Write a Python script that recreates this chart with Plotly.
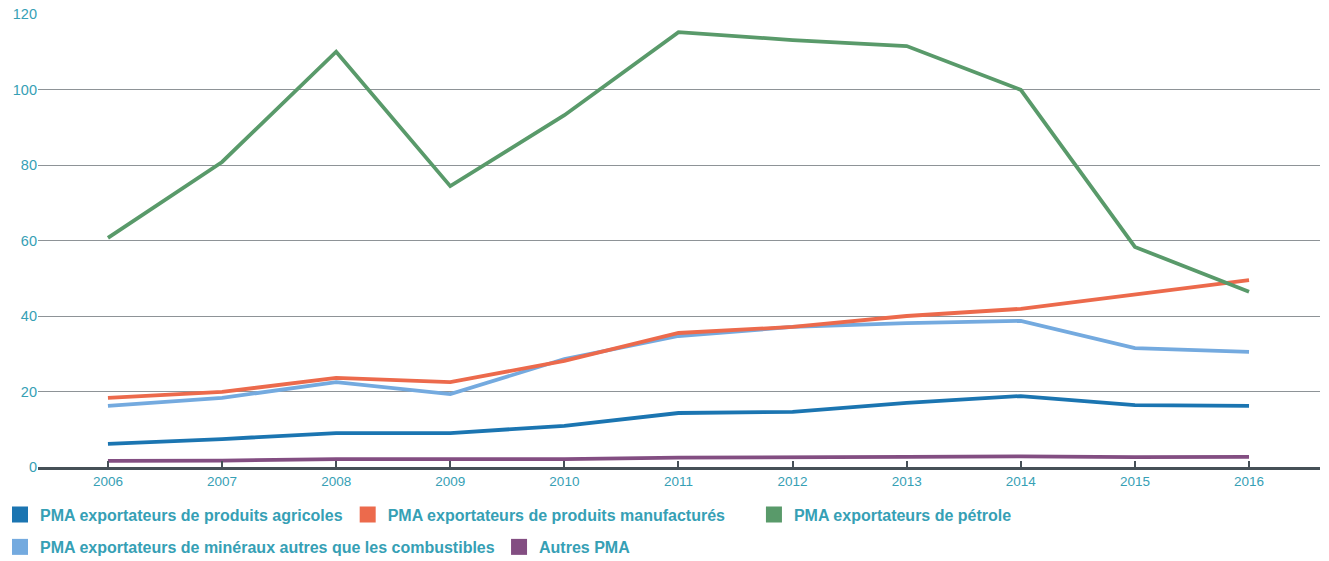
import plotly.graph_objects as go

# Years and series values (indices)
years = [2006, 2007, 2008, 2009, 2010, 2011, 2012, 2013, 2014, 2015, 2016]

agricoles = [6.1, 7.4, 9.0, 9.0, 10.9, 14.3, 14.6, 17.0, 18.8, 16.4, 16.2]
manufactures = [18.3, 19.9, 23.6, 22.5, 28.1, 35.5, 37.1, 40.0, 41.9, 45.6, 49.5]
petrole = [60.7, 80.8, 110.0, 74.4, 93.2, 115.2, 113.1, 111.5, 99.9, 58.3, 46.4]
mineraux = [16.2, 18.3, 22.5, 19.3, 28.6, 34.7, 37.1, 38.1, 38.7, 31.5, 30.5]
autres = [1.6, 1.7, 2.1, 2.0, 2.1, 2.5, 2.5, 2.7, 2.8, 2.6, 2.7]

y_ticks = [0, 20, 40, 60, 80, 100, 120]

series = [
    ("PMA exportateurs de produits agricoles", agricoles, "#1b75b1", "legend"),
    ("PMA exportateurs de produits manufacturés", manufactures, "#ec6a4c", "legend"),
    ("PMA exportateurs de pétrole", petrole, "#599a6a", "legend3"),
    ("PMA exportateurs de minéraux autres que les combustibles", mineraux, "#74aadf", "legend2"),
    ("Autres PMA", autres, "#834e82", "legend4"),
]

TEXT = "#36a0b5"
FONT = "Liberation Sans, Arial, sans-serif"

fig = go.Figure()

# Draw order: light lines first so the main series sit on top
draw_order = [4, 3, 0, 1, 2]
for i in draw_order:
    name, vals, color, _ = series[i]
    fig.add_trace(go.Scatter(
        x=years, y=vals, mode="lines", name=name,
        line=dict(color=color, width=3.8),
        showlegend=False, hoverinfo="x+y+name",
    ))

# Square legend swatches
for name, vals, color, leg in series:
    fig.add_trace(go.Scatter(
        x=[None], y=[None], mode="markers", name=name,
        marker=dict(symbol="square", size=19, color=color),
        legend=leg, showlegend=True,
    ))

legend_common = dict(
    orientation="h", xanchor="left", yanchor="middle",
    xref="container", yref="container",
    font=dict(family=FONT, size=16, color=TEXT, weight="bold"),
    bgcolor="rgba(0,0,0,0)", itemwidth=30, traceorder="normal",
)

ROW1, ROW2 = 0.0829, 0.025

fig.update_layout(
    width=1329, height=561,
    margin=dict(l=38, r=9, t=14, b=94, autoexpand=False),
    paper_bgcolor="white", plot_bgcolor="white",
    font=dict(family=FONT, color=TEXT),
    legend=dict(**legend_common, x=0, y=ROW1),
    legend3=dict(**legend_common, x=0.5673, y=ROW1),
    legend2=dict(**legend_common, x=0, y=ROW2),
    legend4=dict(**legend_common, x=0.3755, y=ROW2),
    xaxis=dict(
        range=[2005.387, 2016.622],
        tickmode="array", tickvals=years, ticktext=[str(y) for y in years],
        showgrid=False, zeroline=False,
        showline=True, linecolor="#465057", linewidth=3,
        ticks="inside", ticklen=6, tickwidth=2, tickcolor="#465057",
        tickfont=dict(family=FONT, size=13.5, color=TEXT),
    ),
    yaxis=dict(
        range=[0, 120],
        tickmode="array", tickvals=y_ticks,
        showgrid=True, gridcolor="#8e9397", gridwidth=1,
        zeroline=False, showline=False, ticks="",
        tickfont=dict(family=FONT, size=14.5, color=TEXT),
    ),
)

fig.write_html("out.html")
